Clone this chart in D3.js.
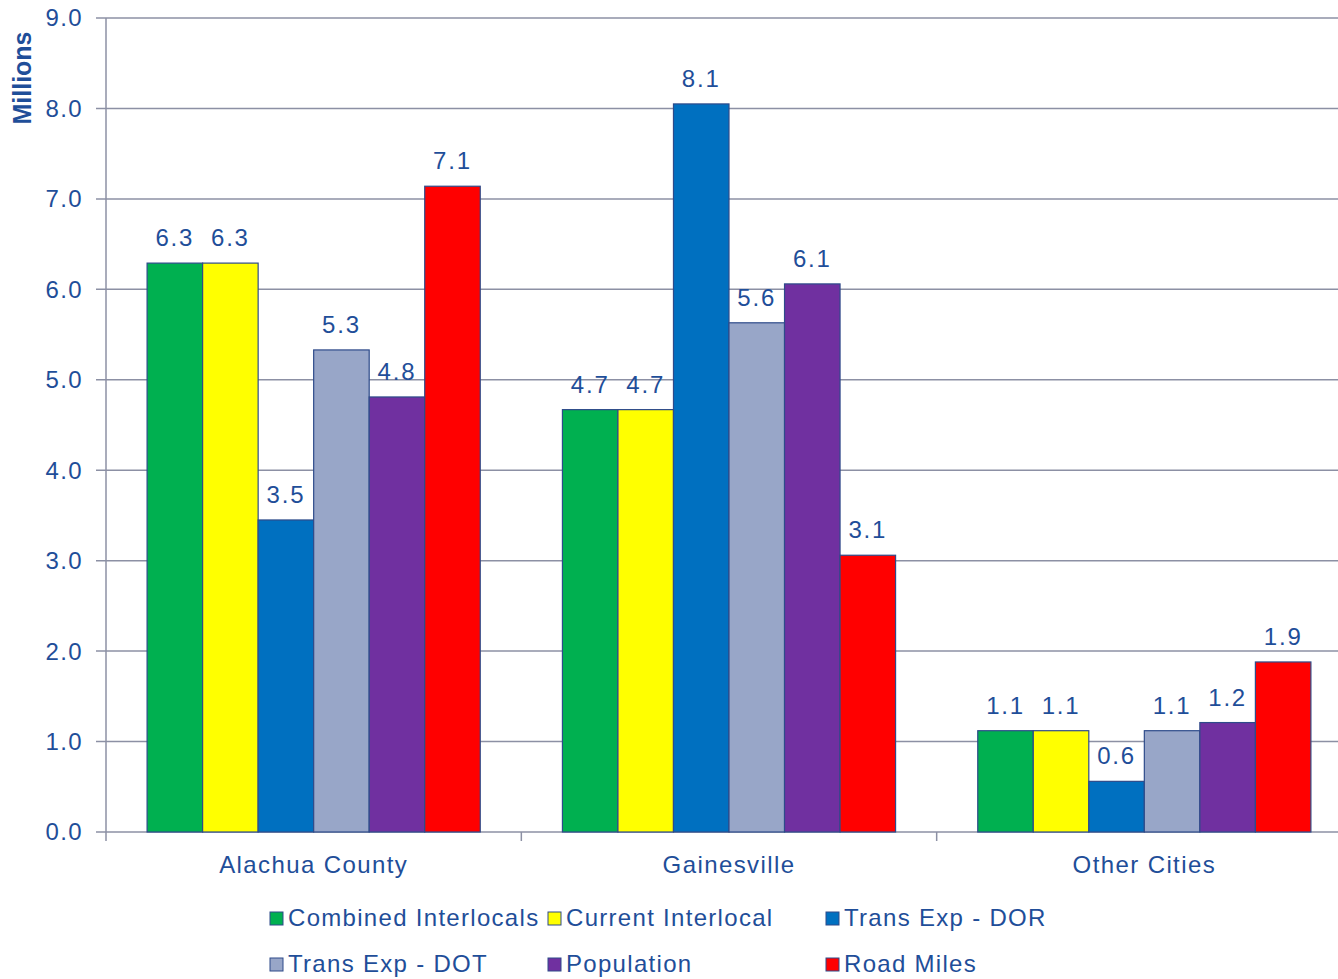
<!DOCTYPE html>
<html>
<head>
<meta charset="utf-8">
<script src="https://cdn.jsdelivr.net/npm/d3@7"></script>
<style>
  body { margin: 0; background: #fff; }
  svg { display: block; }
</style>
</head>
<body>
<div id="chart"></div>
<script>
const categories = ["Alachua County", "Gainesville", "Other Cities"];
const seriesNames = ["Combined Interlocals", "Current Interlocal", "Trans Exp - DOR", "Trans Exp - DOT", "Population", "Road Miles"];
const seriesColors = ["#00B050", "#FFFF00", "#0070C0", "#98A6C8", "#7030A0", "#FF0000"];
// values in millions, per category, in series order
const alachuaValues = [6.29, 6.29, 3.45, 5.33, 4.81, 7.14];
const gainesvilleValues = [4.67, 4.67, 8.05, 5.63, 6.06, 3.06];
const otherValues = [1.12, 1.12, 0.56, 1.12, 1.21, 1.88];
const yTicks = [0, 1, 2, 3, 4, 5, 6, 7, 8, 9];

const values = [alachuaValues, gainesvilleValues, otherValues];
const TEXT = "#1F4E99";
const FONT = "'Liberation Sans', Arial, sans-serif";

const width = 1338, height = 979;
const margin = {top: 18, left: 106, bottom: 147};
const plotRight = 1352;

const svg = d3.select("#chart").append("svg")
    .attr("width", width)
    .attr("height", height)
    .style("font-family", FONT);

const x0 = d3.scaleBand().domain(categories).range([margin.left, plotRight]);
const x1 = d3.scaleBand().domain(seriesNames).range([0, x0.bandwidth()]).paddingInner(0).paddingOuter(0.74);
const y = d3.scaleLinear().domain([0, 9]).range([height - margin.bottom, margin.top]);

// gridlines
svg.append("g")
    .selectAll("line")
    .data(yTicks)
    .join("line")
    .attr("x1", margin.left - 10)
    .attr("x2", plotRight)
    .attr("y1", d => y(d))
    .attr("y2", d => y(d))
    .attr("stroke", "#8C90A4")
    .attr("stroke-width", 1.5);

// y tick labels
svg.append("g")
    .selectAll("text")
    .data(yTicks)
    .join("text")
    .attr("x", 83)
    .attr("y", d => y(d))
    .attr("dy", "0.35em")
    .attr("text-anchor", "end")
    .attr("fill", TEXT)
    .style("font-size", "24px")
    .style("letter-spacing", "1.4px")
    .text(d => d.toFixed(1));

// y axis line
svg.append("line")
    .attr("x1", margin.left).attr("x2", margin.left)
    .attr("y1", y(9)).attr("y2", y(0) + 9)
    .attr("stroke", "#8C90A4")
    .attr("stroke-width", 1.5);

// category ticks
svg.append("g")
    .selectAll("line")
    .data(categories.slice(1))
    .join("line")
    .attr("x1", d => x0(d)).attr("x2", d => x0(d))
    .attr("y1", y(0)).attr("y2", y(0) + 9)
    .attr("stroke", "#8C90A4")
    .attr("stroke-width", 1.5);

// bars
const groups = svg.append("g")
    .selectAll("g")
    .data(categories)
    .join("g")
    .attr("transform", d => `translate(${x0(d)},0)`);

groups.selectAll("rect")
    .data((d, i) => values[i].map((v, j) => ({name: seriesNames[j], value: v, color: seriesColors[j]})))
    .join("rect")
    .attr("x", d => x1(d.name))
    .attr("width", x1.bandwidth())
    .attr("y", d => y(d.value))
    .attr("height", d => y(0) - y(d.value))
    .attr("fill", d => d.color)
    .attr("stroke", "#2E4B8A")
    .attr("stroke-width", 1.2);

groups.selectAll("text")
    .data((d, i) => values[i].map((v, j) => ({name: seriesNames[j], value: v})))
    .join("text")
    .attr("x", d => x1(d.name) + x1.bandwidth() / 2)
    .attr("y", d => y(d.value) - 17)
    .attr("text-anchor", "middle")
    .attr("fill", TEXT)
    .style("font-size", "24px")
    .style("letter-spacing", "1.8px")
    .text(d => d.value.toFixed(1));

// category labels
svg.append("g")
    .selectAll("text")
    .data(categories)
    .join("text")
    .attr("x", d => x0(d) + x0.bandwidth() / 2)
    .attr("y", 873)
    .attr("text-anchor", "middle")
    .attr("fill", TEXT)
    .style("font-size", "24px")
    .style("letter-spacing", "1.4px")
    .text(d => d);

// y title
svg.append("text")
    .attr("transform", "translate(31,78) rotate(-90)")
    .attr("text-anchor", "middle")
    .attr("fill", TEXT)
    .style("font-size", "25px")
    .style("font-weight", "bold")
    .text("Millions");

// legend
const legendCols = [270, 548, 826];
const legendRows = [918, 964];
const legend = svg.append("g")
    .selectAll("g")
    .data(seriesNames)
    .join("g")
    .attr("transform", (d, i) => `translate(${legendCols[i % 3]},${legendRows[Math.floor(i / 3)]})`);

legend.append("rect")
    .attr("x", 0).attr("y", -6)
    .attr("width", 13).attr("height", 13)
    .attr("fill", (d, i) => seriesColors[i])
    .attr("stroke", "#2E4B8A")
    .attr("stroke-width", 1);

legend.append("text")
    .attr("x", 18)
    .attr("y", 0)
    .attr("dy", "0.35em")
    .attr("fill", TEXT)
    .style("font-size", "24px")
    .style("letter-spacing", "1.3px")
    .text(d => d);
</script>
</body>
</html>
